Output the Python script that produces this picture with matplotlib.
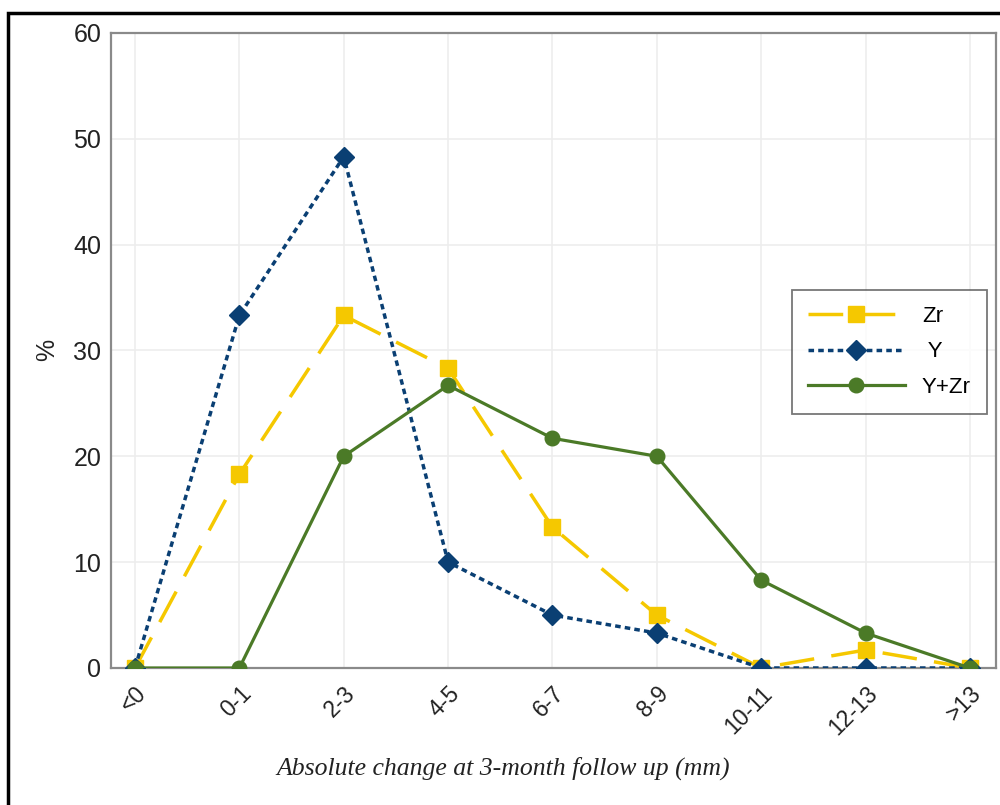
import matplotlib
matplotlib.use("Agg")
import matplotlib.pyplot as plt
from matplotlib.patches import Rectangle
import numpy as np

categories = ["<0", "0-1", "2-3", "4-5", "6-7", "8-9", "10-11", "12-13", ">13"]
zr = [0, 18.3, 33.3, 28.3, 13.3, 5.0, 0, 1.7, 0]
y_vals = [0, 33.3, 48.3, 10.0, 5.0, 3.3, 0, 0, 0]
yzr = [0, 0, 20.0, 26.7, 21.7, 20.0, 8.3, 3.3, 0]
yticks = [0, 10, 20, 30, 40, 50, 60]

plt.rcParams['font.family'] = ['Liberation Sans', 'DejaVu Sans']

fig = plt.figure(figsize=(10, 8.05), dpi=100)
ax = fig.add_axes([0.111, 0.1702, 0.885, 0.789])

x = np.arange(len(categories))
ax.plot(x, zr, color="#F5C800", lw=2.5, dashes=(10, 5), marker="s", ms=11,
        label="Zr", zorder=3)
ax.plot(x, y_vals, color="#0A3F73", lw=2.5, dashes=(1.6, 1.2), marker="D", ms=10,
        label=" Y", zorder=4)
ax.plot(x, yzr, color="#4B7A27", lw=2.3, marker="o", ms=10.5,
        label="Y+Zr", zorder=5)

ax.set_xlim(-0.23, 8.25)
ax.set_ylim(0, 60)
ax.set_yticks(yticks)
ax.set_xticks(x)
ax.set_xticklabels(categories, rotation=45, ha="right", rotation_mode="anchor")
ax.tick_params(axis="y", length=0, labelsize=18, colors="#222222", pad=7)
ax.tick_params(axis="x", length=0, labelsize=16.5, colors="#222222", pad=10)
ax.grid(True, color="#EDEDED", lw=1.2)
ax.set_axisbelow(True)
for s in ax.spines.values():
    s.set_color("#8A8A8A")
    s.set_linewidth(1.6)

ax.set_ylabel("%", fontsize=18, labelpad=10, color="#222222")
fig.text(0.503, 0.046, "Absolute change at 3-month follow up (mm)",
         fontsize=18.5, family="Liberation Serif", style="italic",
         ha="center", va="center", color="#222222")

leg = ax.legend(loc="upper left", bbox_to_anchor=(0.769, 0.595), fontsize=16,
                frameon=True, fancybox=False, edgecolor="#555555",
                handlelength=4.4, borderpad=0.72, labelspacing=0.64,
                handletextpad=0.75, borderaxespad=0)
leg.get_frame().set_linewidth(1.3)

fig.patches.append(Rectangle((0.008, -0.05), 1.2, 1.05 - 13 / 805,
                             transform=fig.transFigure, fill=False,
                             edgecolor="black", lw=2.5))

fig.savefig("out.png", dpi=100)
